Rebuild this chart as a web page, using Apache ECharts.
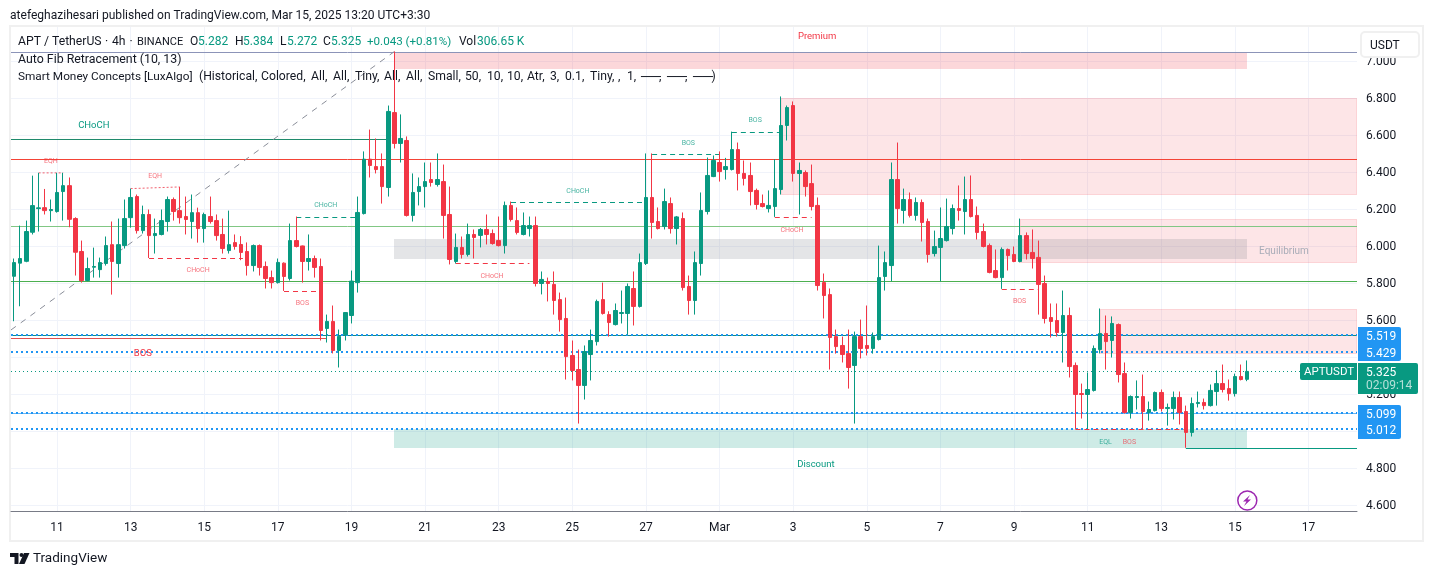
<!DOCTYPE html>
<html>
<head>
<meta charset="utf-8">
<style>html,body{margin:0;padding:0;background:#fff}#c{width:1433px;height:576px}</style>
<script src="https://cdn.jsdelivr.net/npm/echarts@6/dist/echarts.min.js"></script>
</head>
<body>
<div id="c"></div>
<script>
const openVals = [
5.839,5.910,5.920,6.077,6.205,6.210,6.194,6.189,6.297,6.329,
6.151,5.973,5.816,5.888,5.875,5.908,6.010,5.908,6.005,6.156,
6.270,6.086,6.173,6.059,6.065,6.135,6.254,6.194,6.162,6.135,
6.183,6.097,6.162,6.140,6.065,5.978,6.021,6.011,5.973,5.897,
6.005,5.892,5.832,5.805,5.910,5.827,6.032,6.003,5.919,5.935,
5.892,5.557,5.595,5.438,5.524,5.627,5.805,6.178,6.472,6.432,
6.432,6.319,6.724,6.557,6.573,6.168,6.297,6.324,6.362,6.335,
6.351,6.173,5.919,5.995,5.957,6.065,6.060,6.092,6.070,6.032,
6.005,6.222,6.140,6.065,6.097,6.113,5.800,5.811,5.795,5.713,
5.611,5.411,5.335,5.249,5.416,5.486,5.713,5.632,5.578,5.638,
5.638,5.773,5.676,5.908,6.265,6.135,6.108,6.232,6.097,6.151,
5.784,5.708,5.908,6.189,6.378,6.454,6.416,6.416,6.524,6.395,
6.384,6.303,6.232,6.205,6.216,6.308,6.654,6.762,6.395,6.400,
6.340,6.222,5.805,5.740,5.513,5.465,5.421,5.357,5.513,5.465,
5.449,5.497,5.838,5.897,6.362,6.195,6.254,6.168,6.238,6.135,
5.962,5.995,6.032,6.097,6.205,6.189,6.254,6.168,6.081,6.005,
5.870,5.832,5.984,5.957,5.919,6.059,5.968,5.941,5.800,5.616,
5.600,5.535,5.627,5.357,5.205,5.200,5.222,5.443,5.530,5.492,
5.578,5.313,5.103,5.184,5.189,5.103,5.113,5.211,5.124,5.124,
5.184,5.108,4.995,5.151,5.157,5.140,5.216,5.259,5.232,5.205,
5.297,5.282];
const closeVals = [
5.913,5.935,6.081,6.221,6.209,6.194,6.200,6.292,6.329,6.147,
5.969,5.816,5.881,5.892,5.913,6.005,5.919,6.010,6.151,6.265,
6.086,6.173,6.059,6.070,6.140,6.254,6.189,6.156,6.146,6.183,
6.097,6.173,6.135,6.059,5.989,6.010,6.000,5.968,5.897,6.005,
5.887,5.827,5.805,5.914,5.838,6.032,6.000,5.919,5.935,5.887,
5.546,5.595,5.438,5.514,5.643,5.813,6.184,6.472,6.438,6.416,
6.324,6.730,6.557,6.584,6.168,6.292,6.324,6.351,6.346,6.362,
6.168,5.930,5.995,5.957,6.065,6.049,6.092,6.065,6.016,6.005,
6.222,6.146,6.076,6.113,6.113,5.800,5.822,5.800,5.708,5.605,
5.405,5.330,5.249,5.432,5.492,5.703,5.638,5.589,5.654,5.643,
5.784,5.676,5.913,6.265,6.130,6.097,6.243,6.097,6.160,5.778,
5.708,5.913,6.195,6.384,6.465,6.405,6.432,6.524,6.395,6.368,
6.297,6.227,6.216,6.222,6.313,6.654,6.751,6.395,6.411,6.324,
6.216,5.789,5.735,5.508,5.459,5.416,5.346,5.513,5.449,5.449,
5.513,5.832,5.913,6.362,6.205,6.254,6.168,6.238,6.130,5.957,
6.000,6.043,6.108,6.205,6.195,6.254,6.162,6.076,6.000,5.860,
5.832,5.984,5.951,5.919,6.059,5.962,5.935,5.795,5.611,5.595,
5.535,5.627,5.351,5.200,5.200,5.227,5.449,5.530,5.486,5.584,
5.308,5.103,5.189,5.189,5.108,5.119,5.211,5.124,5.130,5.184,
5.103,4.995,5.151,5.157,5.140,5.222,5.259,5.227,5.205,5.297,
5.281,5.325];
const lowVals = [
5.596,5.677,5.915,6.065,6.081,6.173,6.135,6.183,6.140,6.104,
5.843,5.805,5.812,5.832,5.832,5.897,5.740,5.832,5.989,6.102,
6.070,6.070,5.938,5.962,6.060,6.081,6.140,6.124,6.065,6.043,
6.021,6.021,6.124,6.032,5.962,5.962,5.983,5.926,5.843,5.865,
5.843,5.773,5.773,5.800,5.760,5.816,5.995,5.805,5.870,5.832,
5.492,5.481,5.422,5.346,5.492,5.584,5.751,6.173,6.373,6.395,
6.232,6.270,6.530,6.454,6.162,6.135,6.222,6.211,6.324,6.324,
6.043,5.903,5.908,5.935,5.946,5.935,5.995,6.011,6.010,6.000,
5.962,6.135,6.065,6.060,6.054,5.784,5.741,5.703,5.632,5.540,
5.281,5.276,5.043,5.173,5.276,5.465,5.632,5.513,5.573,5.584,
5.524,5.573,5.670,5.900,6.043,6.092,6.092,6.070,6.011,5.762,
5.632,5.632,5.843,6.173,6.375,6.351,6.362,6.411,6.303,6.330,
6.222,6.200,6.211,6.184,6.160,6.281,6.573,6.351,6.173,6.270,
6.195,5.762,5.611,5.335,5.421,5.373,5.232,5.043,5.395,5.411,
5.421,5.492,5.762,5.812,6.124,6.124,6.157,6.140,6.027,5.913,
5.946,5.812,6.027,6.065,6.140,6.065,6.157,6.038,5.995,5.855,
5.828,5.771,5.870,5.915,5.914,5.930,5.881,5.632,5.584,5.508,
5.513,5.373,5.292,5.014,5.070,5.014,5.216,5.422,5.335,5.400,
5.265,5.097,5.070,5.119,5.014,5.059,5.108,5.108,5.032,5.065,
5.038,4.912,4.973,5.130,5.119,5.135,5.140,5.211,5.167,5.189,
5.276,5.272];
const highVals = [
5.935,6.113,6.140,6.383,6.398,6.311,6.254,6.398,6.398,6.373,
6.158,6.032,5.940,5.994,5.940,6.054,6.135,6.151,6.254,6.313,
6.281,6.221,6.200,6.151,6.200,6.270,6.265,6.322,6.270,6.281,
6.210,6.183,6.270,6.173,6.151,6.194,6.065,6.056,6.022,6.011,
6.011,5.919,5.870,5.935,5.914,6.124,6.162,6.005,6.065,5.951,
5.935,5.632,5.681,5.551,5.645,5.870,6.270,6.514,6.632,6.584,
6.503,6.762,7.054,6.714,6.595,6.395,6.373,6.454,6.454,6.503,
6.443,6.324,6.070,6.054,6.124,6.092,6.100,6.173,6.092,6.162,
6.243,6.243,6.211,6.184,6.162,6.162,5.865,5.832,5.865,5.751,
5.724,5.492,5.443,5.465,5.551,5.713,5.805,5.650,5.692,5.762,
5.800,5.865,5.962,6.503,6.503,6.211,6.313,6.265,6.165,6.184,
5.843,5.973,6.292,6.481,6.492,6.514,6.479,6.621,6.562,6.465,
6.454,6.313,6.281,6.303,6.472,6.811,6.762,6.784,6.454,6.411,
6.443,6.265,5.854,5.773,5.551,5.513,5.551,5.540,5.605,5.681,
5.535,6.005,5.973,6.454,6.562,6.313,6.292,6.265,6.254,6.151,
6.086,6.211,6.259,6.227,6.330,6.378,6.384,6.216,6.124,6.016,
5.984,5.995,5.989,6.000,6.151,6.076,6.092,6.032,5.843,5.692,
5.692,5.762,5.670,5.373,5.259,5.319,5.465,5.665,5.627,5.622,
5.584,5.373,5.195,5.276,5.308,5.162,5.216,5.227,5.151,5.216,
5.216,5.140,5.184,5.216,5.178,5.254,5.330,5.362,5.281,5.313,
5.362,5.384];

// Axis ticks
const xTickIdx = [7,19,31,43,55,67,79,91,103,115,127,139,151,163,175,187,199,211];
const xTickLabels = ['11','13','15','17','19','21','23','25','27','Mar','3','5','7','9','11','13','15','17'];
const yTicks = [4.6,4.8,5.0,5.2,5.4,5.6,5.8,6.0,6.2,6.4,6.6,6.8,7.0];

// Zones: [startBar, endBar, upperPrice, lowerPrice]
const premiumTop = [[62,201,7.051,6.960]];
const supplyZones = [[125,218.9,6.803,6.278],[164,218.9,6.149,5.911],[177,218.9,5.662,5.419]];
const equilibriumZone = [[62,201,6.040,5.932]];
const discountZone = [[62,201,5.013,4.911]];

// Levels: [startBar, endBar, price]
const fibTop = [[-0.5,218.9,7.054]];
const fibGreenA = [[-0.5,61,6.581]];
const fibRed = [[-0.5,218.9,6.473]];
const fibLightGreen = [[-0.5,218.9,6.110]];
const fibGreenB = [[-0.5,218.9,5.814]];
const tealLevel = [[-0.5,218.9,5.519]];
const redLevel = [[-0.5,51,5.508]];
const lightBlueLevel = [[-0.5,218.9,5.099]];
const blueDotted = [[-0.5,218.9,5.519],[-0.5,218.9,5.429],[-0.5,218.9,5.099],[-0.5,218.9,5.012]];
const lastClose = [[-0.5,218.9,5.325]];
const bottomSwing = [[191,218.9,4.913]];
const redDashed = [[22,37.3,5.938],[44,50,5.760],[72,84,5.912],[124,130,6.160],[161,167,5.771],[173,191,5.014]];
const greenDashed = [[46,56,6.160],[81,103,6.241],[104,115,6.500],[117,125,6.620]];
const eqhLevels = [[4,8,6.398,6.398],[19,27,6.313,6.322]];
const fibDiagonal = [[-0.5,5.549],[62,7.054]];

// Notes: [bar, price, text]
const greenNotes = [[50.8,6.231,'CHoCH'],[91.9,6.307,'CHoCH'],[109.9,6.566,'BOS'],[120.8,6.690,'BOS'],[177.9,4.950,'EQL']];
const greenNotesLarge = [[13,6.663,'CHoCH'],[130.7,4.831,'Discount']];
const redNotes = [[6,6.469,'EQH'],[23,6.388,'EQH'],[30,5.880,'CHoCH'],[47,5.701,'BOS'],[77.9,5.847,'CHoCH'],[126.8,6.096,'CHoCH'],[163.9,5.712,'BOS'],[181.8,4.950,'BOS']];
const redNotesLarge = [[21,5.431,'BOS'],[130.9,7.144,'Premium']];
const grayNotes = [[207,5.982,'Equilibrium']];

// Indicator settings line, word by word
const settingWords = ['(Historical,','Colored,','All,','All,','Tiny,','All,','All,','Small,','50,','10,','10,','Atr,','3,','0.1,','Tiny,',',','1,'];
const settingStarts = [199,261,311,333,355,384,406,428,465,487,507,527,550,565,590,618,627];

const UP='#089981', DOWN='#f23645', INK='#131722', FONT='Roboto, "Noto Sans", sans-serif';
const candleData = openVals.map((o,i)=>[i,o,closeVals[i],lowVals[i],highVals[i]]);

function zoneSeries(rows, fill, stroke, z){
  return {type:'custom',coordinateSystem:'cartesian2d',silent:true,z,clip:true,data:rows,encode:{x:[0,1],y:[2,3]},
    renderItem:(p,api)=>{
      const a=api.coord([api.value(0),api.value(2)]), b=api.coord([api.value(1),api.value(3)]);
      const x=Math.round(a[0]), y=Math.round(a[1]), w=Math.round(b[0])-x, h=Math.round(b[1])-y;
      const kids=[{type:'rect',shape:{x,y,width:w,height:h},style:{fill}}];
      if(stroke){kids.push({type:'rect',shape:{x:x+0.5,y:y+0.5,width:w-1,height:h-1},style:{fill:'none',stroke,lineWidth:1}});}
      return {type:'group',children:kids};
    }};
}
function segSeries(rows, color, width, dash, z){
  return {type:'custom',coordinateSystem:'cartesian2d',silent:true,z,clip:true,data:rows,encode:{x:[0,1],y:2},
    renderItem:(p,api)=>{
      const a=api.coord([api.value(0),api.value(2)]), b=api.coord([api.value(1),api.value(2)]);
      const y=Math.round(a[1])+(width%2?0.5:0);
      return {type:'line',shape:{x1:a[0],y1:y,x2:b[0],y2:y},style:{stroke:color,lineWidth:width,lineDash:dash||null,fill:null}};
    }};
}
function noteSeries(rows,color,size,opacity){
  return {type:'scatter',silent:true,z:6,symbolSize:0,clip:false,data:rows.map(r=>({value:[r[0],r[1]],name:r[2]})),
    label:{show:true,position:'inside',offset:[0,1.5],formatter:'{b}',color,opacity,fontSize:size,fontFamily:FONT}};
}
function txt(x,y,text,fill,size,extra){
  return Object.assign({type:'text',x,y:y+1,z:100,silent:true,style:Object.assign({text,fill,font:(size||12)+'px '+FONT,textVerticalAlign:'middle',textAlign:'left'},extra||{})});
}

const option={
  animation:false,backgroundColor:'#fff',
  grid:{left:11,top:27,width:1346,height:484.5,containLabel:false,show:false},
  xAxis:{type:'value',min:-0.5,max:218.9,
    axisLine:{show:true,onZero:false,lineStyle:{color:'#787b86',width:1}},
    axisTick:{show:false,customValues:xTickIdx},
    splitLine:{show:true,lineStyle:{color:'#f0f3fa',width:1}},
    axisLabel:{show:true,customValues:xTickIdx,color:INK,fontSize:12,fontFamily:FONT,margin:10,hideOverlap:false,
      formatter:v=>xTickLabels[xTickIdx.indexOf(v)]||''}},
  yAxis:{type:'value',position:'right',min:4.5676,max:7.1865,scale:true,
    axisLine:{show:false},
    axisTick:{show:false,customValues:yTicks},
    splitLine:{show:true,lineStyle:{color:'#f0f3fa',width:1}},
    axisLabel:{show:true,customValues:yTicks,color:INK,fontSize:12,fontFamily:FONT,margin:9,align:'left',hideOverlap:false,
      formatter:v=>v.toFixed(3)}},
  series:[
    zoneSeries(supplyZones,'rgba(242,54,69,0.13)','rgba(242,54,69,0.1)',1),
    zoneSeries(premiumTop,'rgba(242,54,69,0.2)',null,1),
    zoneSeries(equilibriumZone,'rgba(120,123,134,0.2)',null,1),
    zoneSeries(discountZone,'rgba(8,153,129,0.2)',null,1),
    segSeries(fibTop,'#8c94b8',1,null,2),
    segSeries(fibGreenA,'#1f8a6c',1,null,2),
    segSeries(fibRed,'#f44336',1,null,2),
    segSeries(fibLightGreen,'#81c784',1,null,2),
    segSeries(fibGreenB,'#4caf50',1,null,2),
    segSeries(redLevel,'#e04f4f',1,null,2),
    segSeries(tealLevel,'#0e8a80',1,null,2),
    segSeries(lightBlueLevel,'#64b5f6',1,null,2),
    segSeries(bottomSwing,UP,1,null,2),
    segSeries(blueDotted,'#2196f3',2,[2,3],3),
    segSeries(lastClose,UP,1,[1,3],3),
    segSeries(redDashed,DOWN,1,[5,4],3),
    segSeries(greenDashed,UP,1,[5,4],3),
    {type:'custom',coordinateSystem:'cartesian2d',silent:true,z:3,data:eqhLevels,encode:{x:[0,1],y:[2,3]},
      renderItem:(p,api)=>{
        const a=api.coord([api.value(0),api.value(2)]), b=api.coord([api.value(1),api.value(3)]);
        return {type:'line',shape:{x1:a[0],y1:a[1],x2:b[0],y2:b[1]},style:{stroke:'#f2606e',lineWidth:1,lineDash:[2,2],fill:null}};
      }},
    {type:'line',data:fibDiagonal,showSymbol:false,silent:true,z:3,clip:true,lineStyle:{color:'#8a8e99',width:1,type:[6,6]}},
    {type:'candlestick',z:4,silent:true,barWidth:4,clip:true,data:candleData,encode:{x:0,y:[1,2,3,4]},
      itemStyle:{color:UP,color0:DOWN,borderColor:UP,borderColor0:DOWN,borderWidth:1}},
    noteSeries(greenNotes,UP,7,0.75),
    noteSeries(greenNotesLarge,UP,9.5,1),
    noteSeries(redNotes,DOWN,7,0.7),
    noteSeries(redNotesLarge,DOWN,9.5,1),
    noteSeries(grayNotes,'#a8acb8',10,1)
  ],
  graphic:{elements:[
    {type:'rect',silent:true,z:-1,shape:{x:10,y:26,width:1413,height:515},style:{fill:'none',stroke:'#f0f0f0',lineWidth:2}},
    txt(10,15,'atefeghazihesari published on TradingView.com, Mar 15, 2025 13:20 UTC+3:30',INK,12.05),
    txt(18,41,'APT / TetherUS',INK,12.2),txt(105,41,'·',INK,12.2),txt(112,41,'4h',INK,12.2),txt(129.5,41,'·',INK,12.2),txt(137,41,'BINANCE',INK,11),
    txt(190,41,'O',INK,12),txt(198,41,'5.282',UP,12),
    txt(235,41,'H',INK,12),txt(243,41,'5.384',UP,12),
    txt(280,41,'L',INK,12),txt(287,41,'5.272',UP,12),
    txt(323,41,'C',INK,12),txt(331,41,'5.325',UP,12),
    txt(367,41,'+0.043 (+0.81%)',UP,11.6),
    txt(459,41,'Vol',INK,12),txt(477,41,'306.65 K',UP,12),
    txt(18,59,'Auto Fib Retracement (10, 13)',INK,12.35),
    txt(18,76,'Smart Money Concepts [LuxAlgo]',INK,11.8),
    ...settingWords.map((w,i)=>txt(settingStarts[i],76,w,INK,12.2)),
    txt(641,76,'──',INK,14),txt(659,76,',',INK,12.2),txt(667,76,'──',INK,14),txt(685,76,',',INK,12.2),txt(693,76,'──',INK,14),txt(711.5,76,')',INK,12.2),
    // USDT button
    {type:'rect',z:99,silent:true,shape:{x:1361,y:32,width:58,height:25,r:4},style:{fill:'#fff',stroke:'#f0f0f0',lineWidth:2}},
    txt(1370,45,'USDT',INK,12),
    // price tags
    {type:'rect',z:99,silent:true,shape:{x:1358,y:327,width:43,height:34,r:[0,2,2,0]},style:{fill:'#2196f3'}},
    txt(1366,336,'5.519','#fff',12),txt(1366,352.5,'5.429','#fff',12),
    {type:'rect',z:99,silent:true,shape:{x:1358,y:363,width:60,height:31,r:[0,2,2,0]},style:{fill:UP}},
    txt(1366,372,'5.325','#fff',12),txt(1366,385,'02:09:14','#b5e0d8',12),
    {type:'rect',z:99,silent:true,shape:{x:1300,y:363,width:57,height:17,r:[2,0,0,2]},style:{fill:UP}},
    txt(1304,371,'APTUSDT','#fff',11.5),
    {type:'rect',z:99,silent:true,shape:{x:1358,y:405,width:43,height:34,r:[0,2,2,0]},style:{fill:'#2196f3'}},
    txt(1366,413.5,'5.099','#fff',12),txt(1366,430,'5.012','#fff',12),
    // lightning badge
    {type:'circle',z:99,silent:true,shape:{cx:1247.3,cy:500.5,r:9.5},style:{fill:'#fff',stroke:'#9c27b0',lineWidth:1.5}},
    {type:'polygon',z:100,silent:true,shape:{points:[[1250,495],[1243,501.5],[1246.5,501.5],[1244,506],[1251,499.5],[1247.5,499.5]]},style:{fill:'#9c27b0'}},
    // TradingView logo
    {type:'polygon',z:100,silent:true,shape:{points:[[10,553],[18.5,553],[18.5,564],[14.5,564],[14.5,557],[10,557]]},style:{fill:INK}},
    {type:'circle',z:100,silent:true,shape:{cx:21.5,cy:555,r:2},style:{fill:INK}},
    {type:'polygon',z:100,silent:true,shape:{points:[[24,553],[29.5,553],[24.5,564],[19,564]]},style:{fill:INK}},
    txt(33,557.5,'TradingView',INK,13.5)
  ]}
};
const chart=echarts.init(document.getElementById('c'),null,{renderer:'canvas'});
chart.setOption(option);
</script>
</body>
</html>
